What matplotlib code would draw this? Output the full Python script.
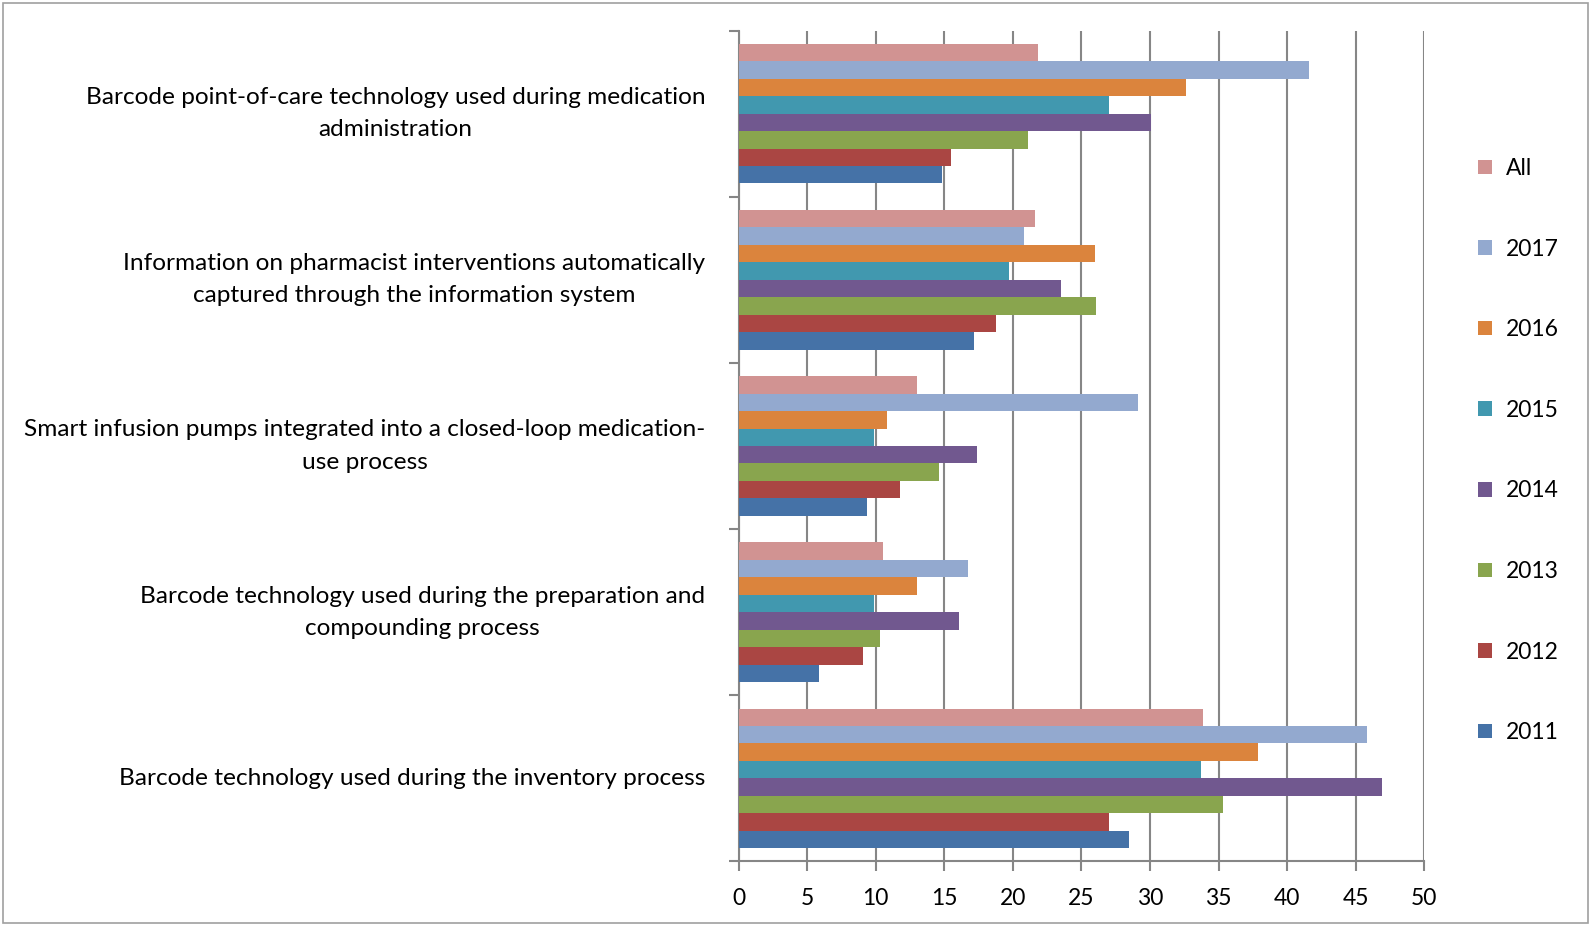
import numpy as np
import matplotlib.pyplot as plt
from matplotlib.patches import Rectangle

plt.rcParams['font.family'] = ['Lato', 'DejaVu Sans']

# categories, top to bottom as in the chart
categories = [
    "Barcode point-of-care technology used during medication\nadministration",
    "Information on pharmacist interventions automatically\ncaptured through the information system",
    "Smart infusion pumps integrated into a closed-loop medication-\nuse process",
    "Barcode technology used during the preparation and\ncompounding process",
    "Barcode technology used during the inventory process",
]
series_names = ["2011", "2012", "2013", "2014", "2015", "2016", "2017", "All"]
vals_2011 = [14.8, 17.2, 9.4, 5.9, 28.5]
vals_2012 = [15.5, 18.8, 11.8, 9.1, 27.0]
vals_2013 = [21.1, 26.1, 14.6, 10.3, 35.3]
vals_2014 = [30.1, 23.5, 17.4, 16.1, 46.9]
vals_2015 = [27.0, 19.7, 9.9, 9.9, 33.7]
vals_2016 = [32.6, 26.0, 10.8, 13.0, 37.9]
vals_2017 = [41.6, 20.8, 29.1, 16.7, 45.8]
vals_all = [21.8, 21.6, 13.0, 10.5, 33.9]
series_vals = [vals_2011, vals_2012, vals_2013, vals_2014, vals_2015,
               vals_2016, vals_2017, vals_all]
colors = ["#4572A7", "#AA4643", "#89A54E", "#71588F", "#4198AF",
          "#DB843D", "#93A9CF", "#D19392"]

fig = plt.figure(figsize=(15.93, 9.26), dpi=100)
ax = fig.add_axes([0.4636, 0.0697, 0.4305, 0.8973])

n = len(categories)
ypos = np.arange(n)[::-1]  # first category on top
bar_h = 0.105
group_w = bar_h * len(series_names)

handles = []
for k, (name, vals, c) in enumerate(zip(series_names, series_vals, colors)):
    offs = -group_w / 2 + bar_h * (k + 0.5)
    b = ax.barh(ypos + offs, vals, height=bar_h, color=c, label=name, zorder=3)
    handles.append(b)

ax.set_xlim(0, 50)
ax.set_ylim(-0.5, n - 0.5)
ax.set_xticks(np.arange(0, 51, 5))
ax.grid(axis='x', color='#868686', linewidth=1.5, zorder=0)

ax.set_yticks(ypos)
ax.set_yticklabels(categories, multialignment='center', fontsize=17.6,
                   linespacing=1.65, va='center')
ax.tick_params(axis='y', which='major', length=0, pad=24)
ax.set_yticks(np.arange(-0.5, n, 1), minor=True)
ax.tick_params(axis='y', which='minor', length=7, width=1.5, color='#868686')
ax.tick_params(axis='x', length=7, width=1.5, color='#868686', labelsize=16.5, pad=12)

for s in ['top', 'right']:
    ax.spines[s].set_visible(False)
for s in ['left', 'bottom']:
    ax.spines[s].set_color('#868686')
    ax.spines[s].set_linewidth(1.5)

fig.legend(handles[::-1], series_names[::-1], loc='center left',
           bbox_to_anchor=(1478 / 1593, 0.5134), frameon=False, fontsize=16.5,
           handlelength=0.6, handleheight=0.6, handletextpad=0.6,
           labelspacing=2.6, borderpad=0, borderaxespad=0)

fig.patches.append(Rectangle((0.002, 0.003), 0.995, 0.994, transform=fig.transFigure,
                             fill=False, edgecolor='#A0A0A0', linewidth=1.2))

plt.savefig("out.png", dpi=100)
